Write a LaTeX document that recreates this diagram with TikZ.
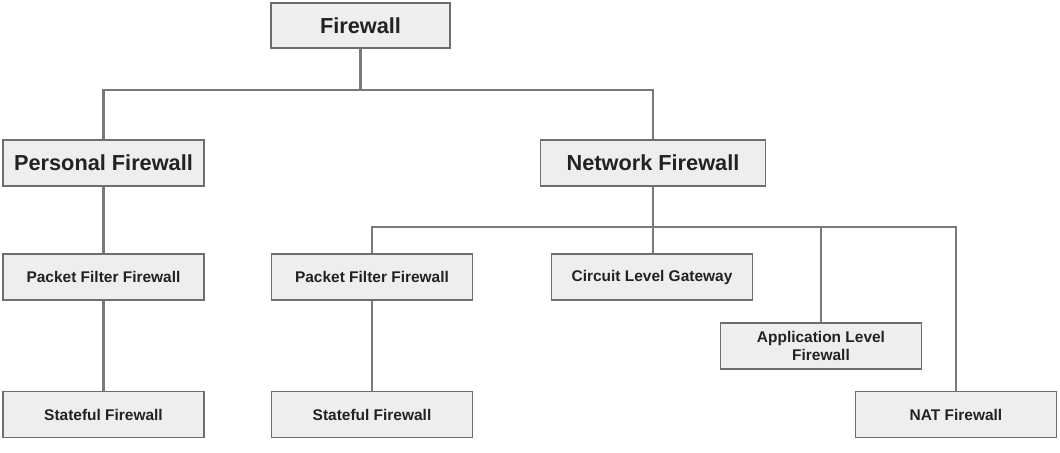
\documentclass[tikz,border=0pt]{standalone}
\usepackage{fontspec}
\setmainfont{Liberation Sans}
\definecolor{boxfill}{HTML}{EEEEEE}
\definecolor{boxline}{HTML}{6E6E6E}
\definecolor{conn}{HTML}{7A7A7A}
\definecolor{txt}{HTML}{222222}
\begin{document}
\begin{tikzpicture}[x=0.75pt,y=-0.75pt,
  box/.style={draw=boxline,fill=boxfill,line width=1.2pt,inner sep=0pt,align=center,text=txt,font=\bfseries},
  bigbox/.style={box,minimum height=34.5pt,font=\fontsize{16.3}{19}\selectfont\bfseries},
  smallbox/.style={box,minimum width=150.75pt,minimum height=34.5pt,font=\fontsize{11.6}{14}\selectfont\bfseries},
  link/.style={draw=conn,line width=1.6pt}]
\useasboundingbox (0,0) rectangle (1060,453);
% nodes
\node[bigbox,minimum width=134.25pt,minimum height=33.75pt] (fw) at (360.5,25.5) {Firewall};
\node[bigbox,minimum width=150.75pt] (pf) at (103.5,163) {Personal Firewall};
\node[bigbox,minimum width=168.75pt] (nf) at (653,163) {Network Firewall};
\node[smallbox] (pk1) at (103.5,277) {Packet Filter Firewall};
\node[smallbox] (pk2) at (372,277) {Packet Filter Firewall};
\node[smallbox] (clg) at (652,277) {Circuit Level Gateway};
\node[smallbox] (alf) at (821,346) {Application Level\\[-1pt]Firewall};
\node[smallbox] (nat) at (956,414.5) {NAT Firewall};
\node[smallbox] (sf1) at (103.5,414.5) {Stateful Firewall};
\node[smallbox] (sf2) at (372,414.5) {Stateful Firewall};
% junctions
\coordinate (j1) at (360.5,90);
\coordinate (j2) at (653,227);
% connectors
\begin{scope}[on background layer/.try]
\end{scope}
\draw[link] (fw.south) -- (j1);
\draw[link] (j1) -| (pf.north);
\draw[link] (j1) -| (nf.north);
\draw[link] (pf.south) -- (pk1.north);
\draw[link] (pk1.south) -- (sf1.north);
\draw[link] (nf.south) -- (j2);
\draw[link] (j2) -| (pk2.north);
\draw[link] (j2) -| (alf.north);
\draw[link] (j2) -| (nat.north);
\draw[link] (j2) -- (j2 |- clg.north);
\draw[link] (pk2.south) -- (sf2.north);
\end{tikzpicture}
\end{document}
